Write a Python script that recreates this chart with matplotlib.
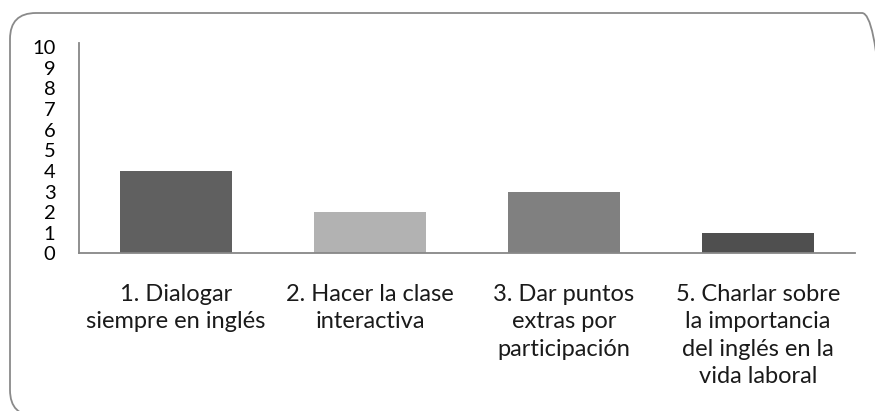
import matplotlib
matplotlib.use('Agg')
import matplotlib.pyplot as plt
from matplotlib.patches import FancyBboxPatch
import numpy as np

# Data
categories = ['1. Dialogar\nsiempre en inglés',
              '2. Hacer la clase\ninteractiva',
              '3. Dar puntos\nextras por\nparticipación',
              '5. Charlar sobre\nla importancia\ndel inglés en la\nvida laboral']
values = [4, 2, 3, 1]
bar_colors = ['#606060', '#b2b2b2', '#808080', '#4f4f4f']
y_ticks = list(range(0, 11))

plt.rcParams['font.family'] = ['Lato', 'DejaVu Sans']

fig = plt.figure(figsize=(8.75, 4.11), dpi=100)
ax = fig.add_axes([79 / 875, 1 - 253.5 / 411, (855 - 79) / 875, (253.5 - 42.9) / 411])

x = np.arange(len(categories))
ax.bar(x, values, width=0.577, color=bar_colors, zorder=2)

ax.set_xlim(-0.5, len(categories) - 0.5)
ax.set_ylim(0, 10.2)
ax.set_yticks(y_ticks)
ax.set_yticklabels([str(t) for t in y_ticks], fontsize=14.5, color='black')
ax.set_xticks(x)
ax.set_xticklabels(categories, fontsize=17, color='#1a1a1a')
for lbl in ax.get_xticklabels():
    lbl.set_linespacing(1.37)

ax.tick_params(axis='y', length=0, pad=17)
ax.tick_params(axis='x', length=0, pad=22)

for side in ['top', 'right']:
    ax.spines[side].set_visible(False)
for side in ['left', 'bottom']:
    ax.spines[side].set_color('#878787')
    ax.spines[side].set_linewidth(1.3)

# rounded outer frame, partly cut off on the right and bottom
frame = FancyBboxPatch((0.10, -0.05), 8.78, 4.03,
                       boxstyle='round,pad=0,rounding_size=0.26',
                       transform=fig.dpi_scale_trans,
                       facecolor='none', edgecolor='#8a8a8a', linewidth=1.3,
                       clip_on=False)
fig.add_artist(frame)

fig.savefig('out.png', dpi=100)
